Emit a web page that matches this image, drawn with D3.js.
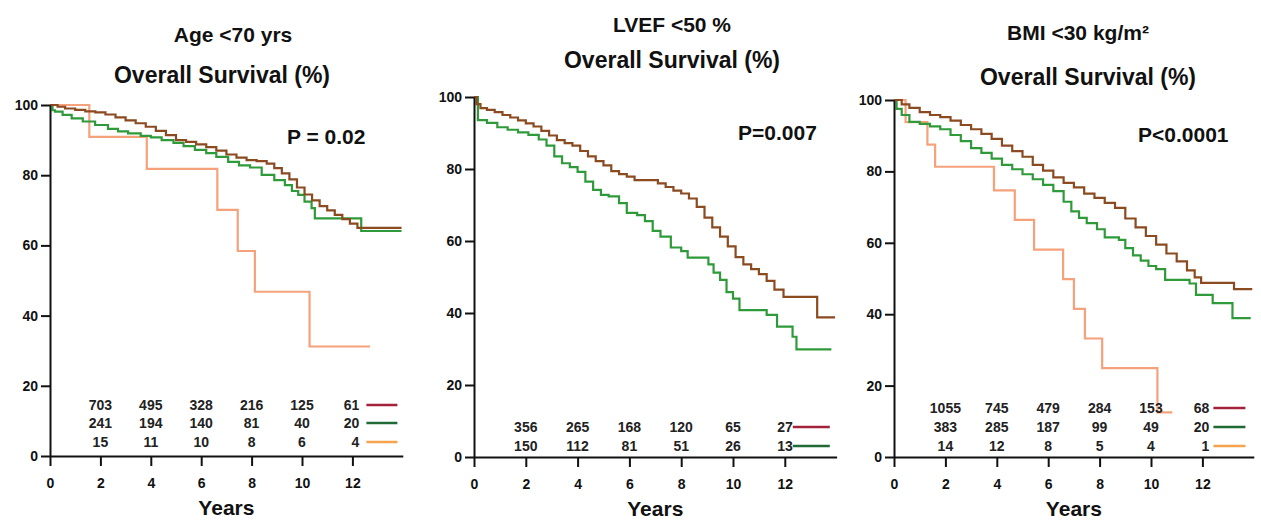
<!DOCTYPE html>
<html>
<head>
<meta charset="utf-8">
<script src="https://cdn.jsdelivr.net/npm/d3@7"></script>
<style>
  body { margin: 0; background: #fff; }
  svg { display: block; font-family: "Liberation Sans", Arial, Helvetica, sans-serif; }
  .axis path, .axis line { stroke: #111; stroke-width: 2; }
  .axis text { font-size: 14px; font-weight: bold; fill: #111; }
</style>
</head>
<body>
<div id="chart"></div>
<script>
'use strict';

const xTicks = [0, 2, 4, 6, 8, 10, 12];
const yTicks = [0, 20, 40, 60, 80, 100];
const riskTimes = [2, 4, 6, 8, 10, 12];

// Age <70 yrs  [years, survival %]
const ageBrown = [[0,100],[0.3,99.5],[0.6,99],[1.0,98.6],[1.4,98.2],[1.8,97.9],[2.2,97.3],[2.6,96.5],[3.0,95.6],[3.4,94.8],[3.8,93.8],[4.2,92.6],[4.6,91.4],[5.0,90],[5.4,89.5],[5.8,88.8],[6.2,88],[6.6,87],[7.0,85.9],[7.4,85],[7.8,84.3],[8.2,84],[8.6,83.3],[8.9,82],[9.2,80.5],[9.5,78.8],[9.8,76.5],[10.1,74.5],[10.4,72.8],[10.7,71.2],[11.0,70],[11.3,68.7],[11.6,67.5],[11.9,66.2],[12.2,65],[13.95,65]];
const ageGreen = [[0,100],[0.1,98.5],[0.2,98.1],[0.5,97.2],[0.86,96.2],[1.3,95.3],[1.79,94.3],[2.3,93.2],[2.7,92.5],[3.1,91.9],[3.6,91.2],[4.0,90.8],[4.43,90],[4.9,89.2],[5.3,88.3],[5.75,87.2],[6.2,86.3],[6.6,85.2],[7.07,83.8],[7.5,82.8],[7.94,82.2],[8.4,80.1],[8.9,78.6],[9.32,77.2],[9.6,75.5],[9.85,74.4],[10.1,72.5],[10.38,70.6],[10.51,67.7],[12.35,64.1],[13.95,64.1]];
const ageOrange = [[0,100],[1.56,90.9],[3.84,81.8],[6.64,70.1],[7.45,58.4],[8.13,46.8],[10.3,31.2],[12.7,31.2]];
const ageRiskRed = [703, 495, 328, 216, 125, 61];
const ageRiskGreen = [241, 194, 140, 81, 40, 20];
const ageRiskOrange = [15, 11, 10, 8, 6, 4];

// LVEF <50 %
const lvefBrown = [[0,100],[0.1,98],[0.25,96.9],[0.5,96.4],[0.8,95.8],[1.1,95],[1.4,94.3],[1.7,93.5],[2.0,92.7],[2.3,91.8],[2.6,90.6],[2.9,89.3],[3.2,88],[3.5,87.2],[3.8,86.5],[4.1,85],[4.4,83.5],[4.7,82.2],[5.0,81],[5.3,79.4],[5.6,78.6],[5.9,77.9],[6.2,76.9],[7.1,76],[7.4,75],[7.7,74],[8.0,73.2],[8.3,71.8],[8.6,69.5],[8.9,66.5],[9.2,63.8],[9.5,61.2],[9.8,58.5],[10.1,55.5],[10.4,53.5],[10.7,52.2],[11.0,50.8],[11.3,48.9],[11.6,46.5],[11.95,44.5],[13.25,38.8],[13.94,38.8]];
const lvefGreen = [[0,100],[0.15,93.6],[0.5,92.8],[0.9,91.6],[1.3,90.9],[1.7,90.2],[2.1,89.5],[2.5,88.2],[2.8,86.5],[3.1,83.5],[3.4,81.6],[3.7,80.5],[4.0,79.2],[4.3,76.5],[4.6,74.2],[4.9,72.8],[5.2,72.4],[5.6,70.5],[5.9,67.8],[6.3,67.2],[6.6,65.5],[6.9,62.8],[7.2,61.2],[7.6,58.2],[8.0,57.2],[8.25,55.4],[9.05,53.5],[9.25,51.2],[9.5,49.2],[9.75,45.8],[10.0,44],[10.25,40.8],[11.3,39.5],[11.7,36.2],[12.3,33.4],[12.45,29.9],[13.8,29.9]];
const lvefRiskRed = [356, 265, 168, 120, 65, 27];
const lvefRiskGreen = [150, 112, 81, 51, 26, 13];

// BMI <30 kg/m²
const bmiBrown = [[0,100],[0.3,98.8],[0.6,97.8],[1.0,96.6],[1.4,95.8],[1.8,95.2],[2.2,94.2],[2.6,93],[3.0,91.8],[3.4,90.5],[3.8,89.1],[4.2,87.2],[4.6,85.7],[5.0,84.1],[5.4,81.8],[5.8,80.2],[6.2,78.3],[6.6,76.8],[7.0,75.5],[7.4,73.8],[7.8,72.6],[8.2,71.2],[8.6,69.8],[9.0,66.8],[9.4,64.3],[9.8,61.9],[10.2,59.5],[10.6,57],[11.0,54.8],[11.4,52.3],[11.7,50.3],[11.95,48.8],[13.23,47],[13.94,47]];
const bmiGreen = [[0,100],[0.1,97.5],[0.3,95.8],[0.6,93.9],[1.0,93.3],[1.4,92.6],[1.8,91.8],[2.2,90.2],[2.6,88.5],[3.0,86.5],[3.4,85.2],[3.8,83.6],[4.2,81.8],[4.6,80.6],[5.0,79.2],[5.4,77.8],[5.8,76.2],[6.2,74.5],[6.6,71.5],[6.9,68.8],[7.2,67],[7.5,65.5],[7.9,63.8],[8.2,61.5],[8.75,60.8],[9.0,58.5],[9.3,56.5],[9.6,55],[9.9,53.5],[10.2,52.6],[10.55,49.6],[11.5,48.6],[11.75,45.4],[12.4,43.1],[13.17,38.9],[13.88,38.9]];
const bmiOrange = [[0,100],[0.45,93.8],[1.3,87.5],[1.6,81.3],[3.89,74.7],[4.7,66.4],[5.45,58.1],[6.58,49.8],[7.0,41.5],[7.43,33.2],[8.1,24.9],[10.25,12.5],[10.83,12.5]];
const bmiRiskRed = [1055, 745, 479, 284, 153, 68];
const bmiRiskGreen = [383, 285, 187, 99, 49, 20];
const bmiRiskOrange = [14, 12, 8, 5, 4, 1];

const curveColors = { brown: '#8b4a20', green: '#2f9a3a', orange: '#f5a27c' };
const riskColors = { red: '#a3213a', green: '#1f6a35', orange: '#f5a34e' };

const panels = [
    {
        x0: 50, pxPerYear: 25.2, yZero: 456, yHundred: 105,
        title: 'Age <70 yrs', titleX: 233, titleY: 35, survX: 222, survY: 75,
        p: 'P = 0.02', pX: 287, pY: 137,
        curves: [[ageOrange, 'orange'], [ageGreen, 'green'], [ageBrown, 'brown']],
        risk: [[ageRiskRed, 'red', 51], [ageRiskGreen, 'green', 33], [ageRiskOrange, 'orange', 14]],
        lastShift: 7, legendFrom: 14, legendTo: 45
    },
    {
        x0: 474, pxPerYear: 25.9, yZero: 457, yHundred: 97,
        title: 'LVEF <50 %', titleX: 672, titleY: 25, survX: 672, survY: 60,
        p: 'P=0.007', pX: 738, pY: 133,
        curves: [[lvefGreen, 'green'], [lvefBrown, 'brown']],
        risk: [[lvefRiskRed, 'red', 30], [lvefRiskGreen, 'green', 11]],
        lastShift: 8, legendFrom: 8, legendTo: 45
    },
    {
        x0: 894, pxPerYear: 25.7, yZero: 457, yHundred: 100,
        title: 'BMI <30 kg/m²', titleX: 1078, titleY: 33, survX: 1088, survY: 77,
        p: 'P<0.0001', pX: 1138, pY: 135,
        curves: [[bmiOrange, 'orange'], [bmiGreen, 'green'], [bmiBrown, 'brown']],
        risk: [[bmiRiskRed, 'red', 49], [bmiRiskGreen, 'green', 30], [bmiRiskOrange, 'orange', 11]],
        lastShift: 7, legendFrom: 11, legendTo: 43
    }
];

const width = 1261;
const height = 524;

const svg = d3.select('#chart').append('svg')
    .attr('width', width)
    .attr('height', height);

svg.append('rect').attr('width', width).attr('height', height).attr('fill', '#fff');

panels.forEach(panel => {
    const g = svg.append('g');

    const x = d3.scaleLinear().domain([0, 14]).range([panel.x0, panel.x0 + 14 * panel.pxPerYear]);
    const y = d3.scaleLinear().domain([0, 100]).range([panel.yZero, panel.yHundred]);

    // titles
    g.append('text')
        .attr('x', panel.titleX).attr('y', panel.titleY).attr('dy', '0.35em')
        .attr('text-anchor', 'middle')
        .style('font-size', '21px').style('font-weight', 'bold').style('fill', '#111')
        .text(panel.title);

    g.append('text')
        .attr('x', panel.survX).attr('y', panel.survY).attr('dy', '0.35em')
        .attr('text-anchor', 'middle')
        .style('font-size', '23px').style('font-weight', 'bold').style('fill', '#111')
        .text('Overall Survival (%)');

    g.append('text')
        .attr('x', panel.pX).attr('y', panel.pY).attr('dy', '0.35em')
        .style('font-size', '21px').style('font-weight', 'bold').style('fill', '#111')
        .text(panel.p);

    // curves
    const line = d3.line()
        .x(d => x(d[0]))
        .y(d => y(d[1]))
        .curve(d3.curveStepAfter);

    panel.curves.forEach(([data, color]) => {
        g.append('path')
            .datum(data)
            .attr('fill', 'none')
            .attr('stroke', curveColors[color])
            .attr('stroke-width', 2.2)
            .attr('d', line);
    });

    // axes
    const xAxis = d3.axisBottom(x)
        .tickValues(xTicks)
        .tickSize(10)
        .tickSizeOuter(0)
        .tickPadding(12);

    const yAxis = d3.axisLeft(y)
        .tickValues(yTicks)
        .tickSize(9)
        .tickSizeOuter(0)
        .tickPadding(3);

    g.append('g')
        .attr('class', 'x axis')
        .attr('transform', 'translate(0,' + panel.yZero + ')')
        .call(xAxis);

    g.append('g')
        .attr('class', 'y axis')
        .attr('transform', 'translate(' + panel.x0 + ',0)')
        .call(yAxis);

    g.append('text')
        .attr('x', x(7)).attr('y', panel.yZero + 52).attr('dy', '0.35em')
        .attr('text-anchor', 'middle')
        .style('font-size', '21px').style('font-weight', 'bold').style('fill', '#111')
        .text('Years');

    // number at risk
    panel.risk.forEach(([counts, color, offset]) => {
        const rowY = panel.yZero - offset;
        g.selectAll(null)
            .data(counts)
            .enter().append('text')
            .attr('x', (d, i) => i === counts.length - 1 ? x(riskTimes[i]) + panel.lastShift : x(riskTimes[i]))
            .attr('y', rowY).attr('dy', '0.35em')
            .attr('text-anchor', (d, i) => i === counts.length - 1 ? 'end' : 'middle')
            .style('font-size', '14px').style('font-weight', 'bold').style('fill', '#222')
            .text(d => d);

        g.append('line')
            .attr('x1', x(12) + panel.legendFrom).attr('x2', x(12) + panel.legendTo)
            .attr('y1', rowY).attr('y2', rowY)
            .attr('stroke', riskColors[color])
            .attr('stroke-width', 2.5);
    });
});
</script>
</body>
</html>
